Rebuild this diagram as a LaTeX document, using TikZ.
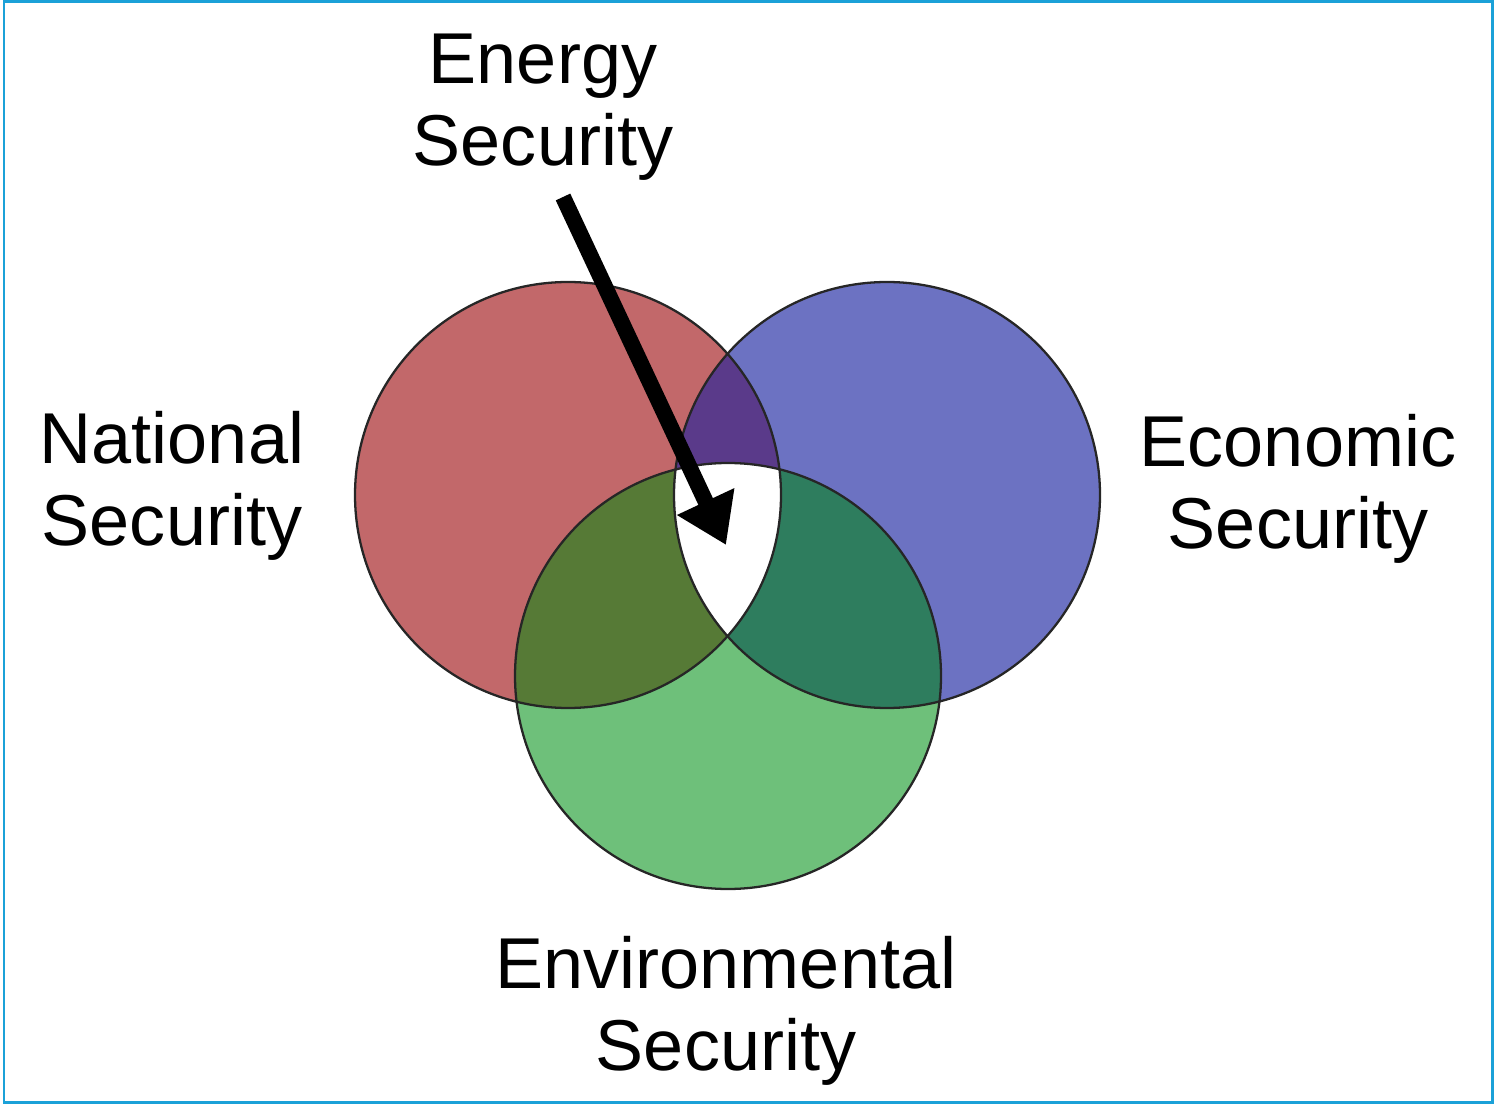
\documentclass[tikz,border=0pt]{standalone}
\usepackage{fontspec}
\setmainfont{Liberation Sans}
\usetikzlibrary{arrows.meta}
\definecolor{natred}{RGB}{194,104,106}
\definecolor{ecoblue}{RGB}{108,114,194}
\definecolor{envgreen}{RGB}{110,192,122}
\definecolor{natecopurple}{RGB}{90,58,138}
\definecolor{natenvolive}{RGB}{86,122,54}
\definecolor{ecoenvteal}{RGB}{46,125,94}
\definecolor{frameblue}{RGB}{27,161,216}
\begin{document}
\begin{tikzpicture}[x=0.02cm, y=-0.02cm,
  securitytext/.style={align=center, inner sep=0pt, font=\fontsize{41}{47}\selectfont},
  rim/.style={draw=black!85, line width=1.3pt}]
  \useasboundingbox (0, 0) rectangle (1494, 1104);
  \draw [frameblue, line width=1.7pt] (4, 2) rectangle (1492, 1102);
  \def\rad{213}
  \coordinate (nat) at (568, 495);
  \coordinate (eco) at (887, 495);
  \coordinate (env) at (728, 676);
  \fill [natred] (nat) circle [radius=\rad];
  \fill [ecoblue] (eco) circle [radius=\rad];
  \fill [envgreen] (env) circle [radius=\rad];
  \begin{scope}
    \clip (eco) circle [radius=\rad];
    \fill [ecoenvteal] (env) circle [radius=\rad];
  \end{scope}
  \begin{scope}
    \clip (nat) circle [radius=\rad];
    \fill [natecopurple] (eco) circle [radius=\rad];
    \fill [natenvolive] (env) circle [radius=\rad];
    \clip (eco) circle [radius=\rad];
    \fill [white] (env) circle [radius=\rad];
  \end{scope}
  \draw [rim] (nat) circle [radius=\rad];
  \draw [rim] (eco) circle [radius=\rad];
  \draw [rim] (env) circle [radius=\rad];
  \node [securitytext] (energy) at (543, 107) {Energy\\Security};
  \node [securitytext] (national) at (172, 486) {National\\Security};
  \node [securitytext] (economic) at (1298, 489) {Economic\\Security};
  \node [securitytext] (environmental) at (726, 1011) {Environmental\\Security};
  \coordinate (tail) at (563, 197);
  \coordinate (core) at (726, 545);
  \draw [line width=0.32cm, -{Triangle[length=0.96cm, width=1.2cm]}] (tail) -- (core);
\end{tikzpicture}
\end{document}
